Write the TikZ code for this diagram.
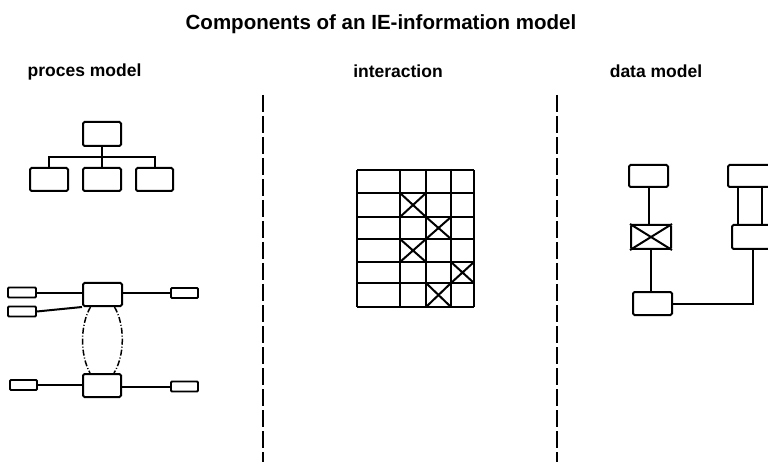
\documentclass[tikz,border=0pt]{standalone}
\usepackage{fontspec}
\setmainfont{Liberation Sans}
\usetikzlibrary{positioning}
\begin{document}
\begin{tikzpicture}[x=1pt,y=-1pt,
  box/.style={draw,line width=2pt,rounded corners=1.5pt,inner sep=0pt},
  sbox/.style={draw,line width=1.8pt,rounded corners=1pt,inner sep=0pt,minimum width=28pt,minimum height=10pt},
  conn/.style={line width=2pt},
  grid/.style={line width=2pt},
  sep/.style={line width=1.6pt,dash pattern=on 17pt off 4pt},
  arc/.style={line width=1.5pt,dash pattern=on 6pt off 2pt on 1pt off 2pt},
  ttl/.style={font=\fontsize{20.5}{24}\selectfont\bfseries,anchor=base,inner sep=0pt},
  hdg/.style={font=\fontsize{17.5}{20}\selectfont\bfseries,anchor=base,inner sep=0pt}]
\useasboundingbox (0,0) rectangle (768,462);
\fill[white] (0,0) rectangle (768,462);
% titles
\node[ttl] (title) at (381,30) {Components of an IE-information model};
\node[hdg] (h1) at (84.5,77) {proces model};
\node[hdg] (h2) at (398,78) {interaction};
\node[hdg] (h3) at (656,78) {data model};
% separators
\coordinate (s1a) at (263,95); \coordinate (s1b) at (263,462);
\coordinate (s2a) at (557,95); \coordinate (s2b) at (557,462);
\draw[sep] (s1a) -- (s1b);
\draw[sep] (s2a) -- (s2b);
% tree
\node[box,minimum width=38pt,minimum height=24pt] (t0) at (102,134) {};
\node[box,minimum width=38pt,minimum height=23pt] (t1) at (49,179.5) {};
\node[box,minimum width=38pt,minimum height=23pt] (t2) at (102,179.5) {};
\node[box,minimum width=37pt,minimum height=23pt] (t3) at (154.5,179.5) {};
\coordinate (bus) at (102,157);
\draw[conn] (t0.south) -- (bus);
\draw[conn] (t1.north) |- (bus) -| (t3.north);
\draw[conn] (bus) -- (t2.north);
% network
\node[box,minimum width=39pt,minimum height=23pt] (p1) at (102.5,294.5) {};
\node[box,minimum width=38pt,minimum height=23pt] (p2) at (102,385.5) {};
\node[sbox] (l1) at (22,292.5) {};
\node[sbox] (l2) at (22,311.5) {};
\node[sbox,minimum width=27pt] (r1) at (184.5,293) {};
\node[sbox,minimum width=27pt] (l3) at (23.5,385) {};
\node[sbox,minimum width=27pt] (r2) at (184.5,386.5) {};
\draw[conn] (l1.east) -- (p1.west|-l1.east);
\draw[conn] (l2.east) -- (p1.south west);
\draw[conn] (p1.east|-r1.west) -- (r1.west);
\draw[conn] (l3.east) -- (p2.west|-l3.east);
\draw[conn] (p2.east|-r2.west) -- (r2.west);
\coordinate (a1) at ([xshift=-12pt]p1.south);
\coordinate (a2) at ([xshift=-12pt]p2.north);
\coordinate (a3) at ([xshift=12pt]p1.south);
\coordinate (a4) at ([xshift=12pt]p2.north);
\draw[arc] (a1) .. controls (80,325) and (80,355) .. (a2);
\draw[arc] (a3) .. controls (125,325) and (125,355) .. (a4);
% interaction grid
\foreach \x in {357,400,426,451,474} \draw[grid] (\x,170) -- (\x,307);
\foreach \y in {170,193,217,239,262,283,307} \draw[grid] (357,\y) -- (474,\y);
\foreach \xa/\xb/\ya/\yb in {400/426/193/217, 426/451/217/239, 400/426/239/262, 451/474/262/283, 426/451/283/307}
  \draw[grid] (\xa,\ya) -- (\xb,\yb) (\xa,\yb) -- (\xb,\ya);
% data model
\node[box,minimum width=39pt,minimum height=22pt] (dA) at (648.5,176) {};
\node[box,minimum width=40pt,minimum height=24pt] (dX) at (651,237) {};
\draw[line width=2pt] (dX.north west) -- (dX.south east) (dX.south west) -- (dX.north east);
\node[box,minimum width=44pt,minimum height=24pt] (dD) at (754,237) {};
\node[box,minimum width=48pt,minimum height=22pt] (dE) at (752,176) {};
\node[box,minimum width=39pt,minimum height=23pt] (dC) at (652.5,303.5) {};
\coordinate (dk) at (753,303.5);
\draw[conn] (dA.south) -- (dA.south|-dX.north);
\draw[conn] (dX.south) -- (dX.south|-dC.north);
\draw[conn] (dC.east) -- (dk) -- (dk|-dD.south);
\draw[conn] (738,187) -- (738,225);
\draw[conn] (762,187) -- (762,225);
\end{tikzpicture}
\end{document}
